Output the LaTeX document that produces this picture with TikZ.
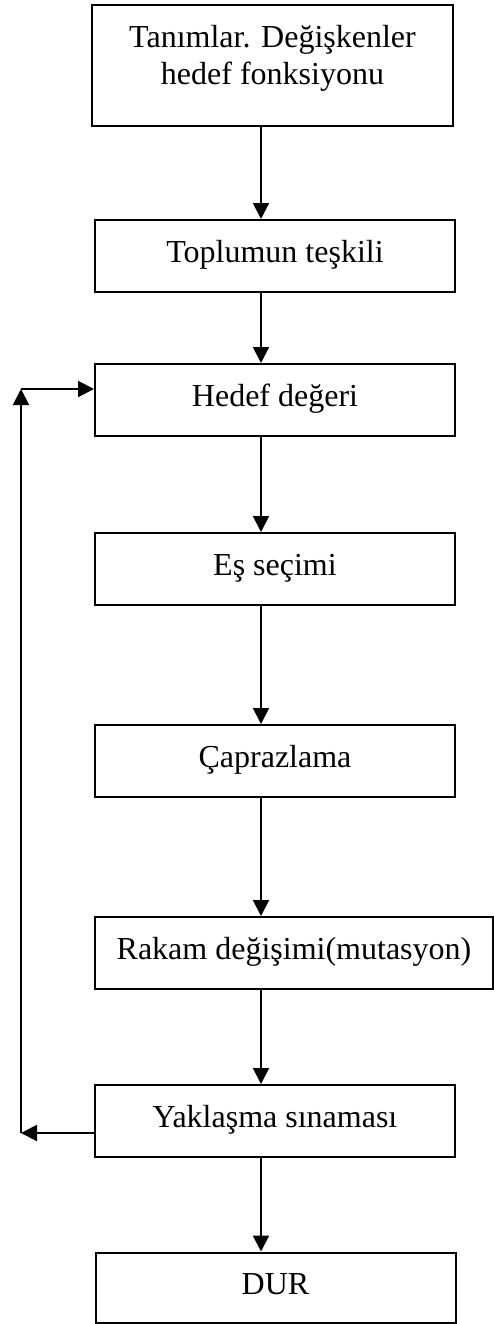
\documentclass[tikz,border=0pt]{standalone}
\usepackage{fontspec}
\setmainfont{Liberation Serif}
\usetikzlibrary{arrows.meta,calc}
\tikzset{
  stage/.style={
    draw,
    line width=1.5pt,
    inner sep=0pt,
    minimum width=270pt,
    minimum height=54pt,
    text height=31.5pt,
    text depth=22.5pt,
    font=\fontsize{24}{27.75}\selectfont
  },
  flow/.style={
    line width=1.5pt,
    -{Triangle[length=12pt,width=12pt]}
  }
}

\begin{document}
\begin{tikzpicture}[x=0.75pt,y=-0.75pt]
  \useasboundingbox (0,0) rectangle (493,1324);
  % the stages
  \node[stage,align=center,minimum width=270.75pt,minimum height=90.75pt,
        text height=59.25pt,text depth=31.5pt] (b1) at (272.5,65.5)
        {Tanımlar. Değişkenler\\hedef fonksiyonu};
  \node[stage] (b2) at (275,256) {Toplumun teşkili};
  \node[stage] (b3) at (275,400) {Hedef değeri};
  \node[stage] (b4) at (275,569) {Eş seçimi};
  \node[stage] (b5) at (275,761) {Çaprazlama};
  \node[stage,minimum width=298.5pt] (b6) at (294,953) {Rakam değişimi(mutasyon)};
  \node[stage] (b7) at (275,1121) {Yaklaşma sınaması};
  \node[stage,minimum height=52.5pt,text depth=21pt] (b8) at (275.5,1287.5) {DUR};
  % main line
  \coordinate (spine) at (261,0);
  \draw[flow] (spine |- b1.south) -- (spine |- b2.north);
  \draw[flow] (spine |- b2.south) -- (spine |- b3.north);
  \draw[flow] (spine |- b3.south) -- (spine |- b4.north);
  \draw[flow] (spine |- b4.south) -- (spine |- b5.north);
  \draw[flow] (spine |- b5.south) -- (spine |- b6.north);
  \draw[flow] (spine |- b6.south) -- (spine |- b7.north);
  \draw[flow] (spine |- b7.south) -- (spine |- b8.north);
  % loop back
  \coordinate (loopx) at (21,0);
  \coordinate (back) at ([yshift=-9pt]b7.west);
  \coordinate (into) at ([yshift=8.25pt]b3.west);
  \draw[flow] (back) -- (back -| loopx);
  \draw[flow] (back -| loopx) -- (into -| loopx);
  \draw[flow] (into -| loopx) -- (into);
\end{tikzpicture}
\end{document}
